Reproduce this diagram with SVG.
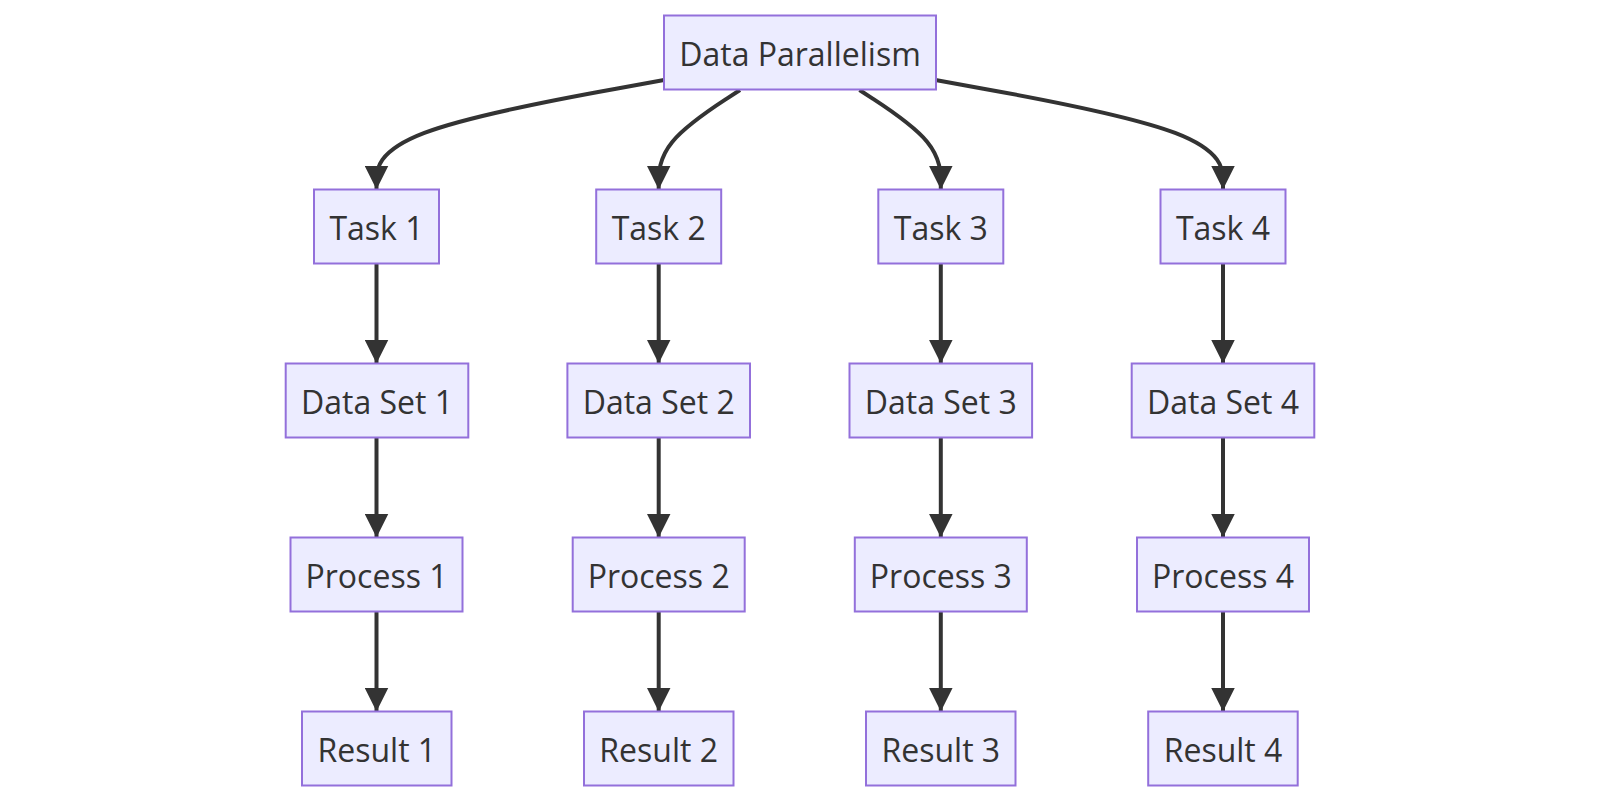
<svg xmlns="http://www.w3.org/2000/svg" width="1600" height="802" viewBox="0 0 1600 802">
<style>
.node rect{fill:#ECECFF;stroke:#9370DB;stroke-width:2}
.node text{font-family:"Open Sans","Noto Sans",sans-serif;font-size:32px;fill:#333;text-anchor:middle}
.edge{fill:none;stroke:#333;stroke-width:4}
</style>
<defs>
<marker id="arr" markerUnits="userSpaceOnUse" viewBox="0 0 24 24" refX="24" refY="12" markerWidth="24" markerHeight="24" orient="auto">
<path d="M0,0 L24,12 L0,24 z" fill="#333"/>
</marker>
</defs>
<rect width="1600" height="802" fill="#fff"/>
<g id="connectors">
<path class="edge" marker-end="url(#arr)" d="M664,80 L616.1,88.7 C568.2,97.3 472.3,114.7 424.4,132.9 C376.5,151.2 376.5,170.3 376.5,179.9 L376.5,189.5"/>
<path class="edge" marker-end="url(#arr)" d="M740,90 L726.45,98.83 C712.9,107.67 685.8,125.33 672.25,141.92 C658.7,158.5 658.7,174 658.7,181.75 L658.7,189.5"/>
<path class="edge" marker-end="url(#arr)" d="M859.5,90 L873.05,98.83 C886.6,107.67 913.7,125.33 927.25,141.92 C940.8,158.5 940.8,174 940.8,181.75 L940.8,189.5"/>
<path class="edge" marker-end="url(#arr)" d="M935.5,80 L983.4,88.7 C1031.3,97.3 1127.2,114.7 1175.1,132.9 C1223,151.2 1223,170.3 1223,179.9 L1223,189.5"/>
<path class="edge" marker-end="url(#arr)" d="M376.5,263.5 V363.5"/>
<path class="edge" marker-end="url(#arr)" d="M376.5,437.5 V537.5"/>
<path class="edge" marker-end="url(#arr)" d="M376.5,611.5 V711.5"/>
<path class="edge" marker-end="url(#arr)" d="M658.7,263.5 V363.5"/>
<path class="edge" marker-end="url(#arr)" d="M658.7,437.5 V537.5"/>
<path class="edge" marker-end="url(#arr)" d="M658.7,611.5 V711.5"/>
<path class="edge" marker-end="url(#arr)" d="M940.8,263.5 V363.5"/>
<path class="edge" marker-end="url(#arr)" d="M940.8,437.5 V537.5"/>
<path class="edge" marker-end="url(#arr)" d="M940.8,611.5 V711.5"/>
<path class="edge" marker-end="url(#arr)" d="M1223,263.5 V363.5"/>
<path class="edge" marker-end="url(#arr)" d="M1223,437.5 V537.5"/>
<path class="edge" marker-end="url(#arr)" d="M1223,611.5 V711.5"/>
</g>
<g id="root" class="node"><rect x="664" y="15.5" width="272" height="74"/><text x="800" y="65.5">Data Parallelism</text></g>
<g id="task1" class="node"><rect x="314" y="189.5" width="125" height="74"/><text x="376.5" y="239.5">Task 1</text></g>
<g id="task2" class="node"><rect x="596.2" y="189.5" width="125" height="74"/><text x="658.7" y="239.5">Task 2</text></g>
<g id="task3" class="node"><rect x="878.3" y="189.5" width="125" height="74"/><text x="940.8" y="239.5">Task 3</text></g>
<g id="task4" class="node"><rect x="1160.5" y="189.5" width="125" height="74"/><text x="1223" y="239.5">Task 4</text></g>
<g id="data1" class="node"><rect x="285.7" y="363.5" width="182.6" height="74"/><text x="377" y="413.5">Data Set 1</text></g>
<g id="data2" class="node"><rect x="567.4" y="363.5" width="182.6" height="74"/><text x="658.7" y="413.5">Data Set 2</text></g>
<g id="data3" class="node"><rect x="849.5" y="363.5" width="182.6" height="74"/><text x="940.8" y="413.5">Data Set 3</text></g>
<g id="data4" class="node"><rect x="1131.7" y="363.5" width="182.6" height="74"/><text x="1223" y="413.5">Data Set 4</text></g>
<g id="proc1" class="node"><rect x="290.5" y="537.5" width="172" height="74"/><text x="376.5" y="587.5">Process 1</text></g>
<g id="proc2" class="node"><rect x="572.7" y="537.5" width="172" height="74"/><text x="658.7" y="587.5">Process 2</text></g>
<g id="proc3" class="node"><rect x="854.8" y="537.5" width="172" height="74"/><text x="940.8" y="587.5">Process 3</text></g>
<g id="proc4" class="node"><rect x="1137" y="537.5" width="172" height="74"/><text x="1223" y="587.5">Process 4</text></g>
<g id="res1" class="node"><rect x="302" y="711.5" width="149.5" height="74"/><text x="376.8" y="761.5">Result 1</text></g>
<g id="res2" class="node"><rect x="584" y="711.5" width="149.5" height="74"/><text x="658.7" y="761.5">Result 2</text></g>
<g id="res3" class="node"><rect x="866" y="711.5" width="149.5" height="74"/><text x="940.8" y="761.5">Result 3</text></g>
<g id="res4" class="node"><rect x="1148.2" y="711.5" width="149.5" height="74"/><text x="1223" y="761.5">Result 4</text></g>
</svg>
